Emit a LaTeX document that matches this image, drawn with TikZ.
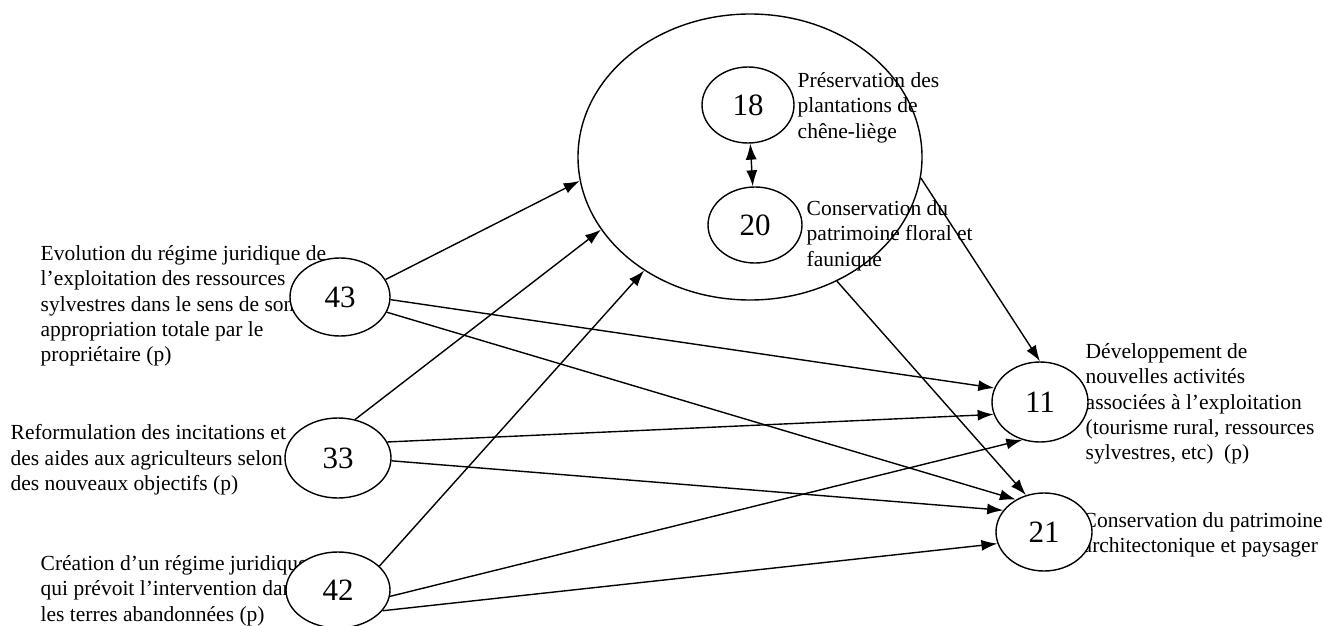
\documentclass[tikz,border=0pt]{standalone}
\usepackage{fontspec}
\setmainfont{Liberation Serif}
\usetikzlibrary{shapes.geometric,arrows.meta}
\begin{document}
\begin{tikzpicture}[x=1pt,y=-1pt,>={Latex[length=16pt,width=11pt]},line width=1.4pt,
    txt/.style={anchor=north west,inner sep=0pt,align=left,font=\fontsize{21.5}{25.3}\selectfont},
    num/.style={ellipse,draw,fill=white,inner sep=0pt,font=\fontsize{31}{31}\selectfont}]
    \useasboundingbox (0,0) rectangle (1322,626);
    \node[ellipse,draw,inner sep=0pt,minimum width=344pt,minimum height=286pt] (big) at (750,157) {};
    \node[txt] (t43) at (40,245) {Evolution du régime juridique de\\l’exploitation des ressources\\sylvestres dans le sens de son\\appropriation totale par le\\propriétaire (p)};
    \node[txt] (t33) at (10,424) {Reformulation des incitations et\\des aides aux agriculteurs selon\\des nouveaux objectifs (p)};
    \node[txt] (t42) at (40,555) {Création d’un régime juridique\\qui prévoit l’intervention dans\\les terres abandonnées (p)};
    \node[txt] (t11) at (1085,343) {Développement de\\nouvelles activités\\associées à l’exploitation\\(tourisme rural, ressources\\sylvestres, etc)~ (p)};
    \node[txt] (t21) at (1082,512) {Conservation du patrimoine\\architectonique et paysager};
    \node[txt] (t18) at (797,72) {Préservation des\\plantations de\\chêne-liège};
    \node[txt] (t20) at (806,200) {Conservation du\\patrimoine floral et\\faunique};
    \foreach \n/\x/\y/\w/\h in {43/340/297/100/78,33/338/458/106/80,42/338/590/104/76,
        11/1040/402/96/80,21/1044/532/96/78,18/748/105/92/76,20/755/225/94/76}
    \node[num,minimum width=\w pt,minimum height=\h pt] (n\n) at (\x,\y) {\n};
    \foreach \a/\b in {n43.21/big.188,n33.66/big.206,n42.30/big.227,
        n43.357/n11.163,n43.342/n21.131,n33.18/n11.195,n33.357/n21.152,
        n42.353/n11.245,n42.335/n21.194,big.353/n11.90,big.305/n21.116}
    \draw[->](\a)--(\b);
    \draw[<->](n18)--(n20);
\end{tikzpicture}
\end{document}
